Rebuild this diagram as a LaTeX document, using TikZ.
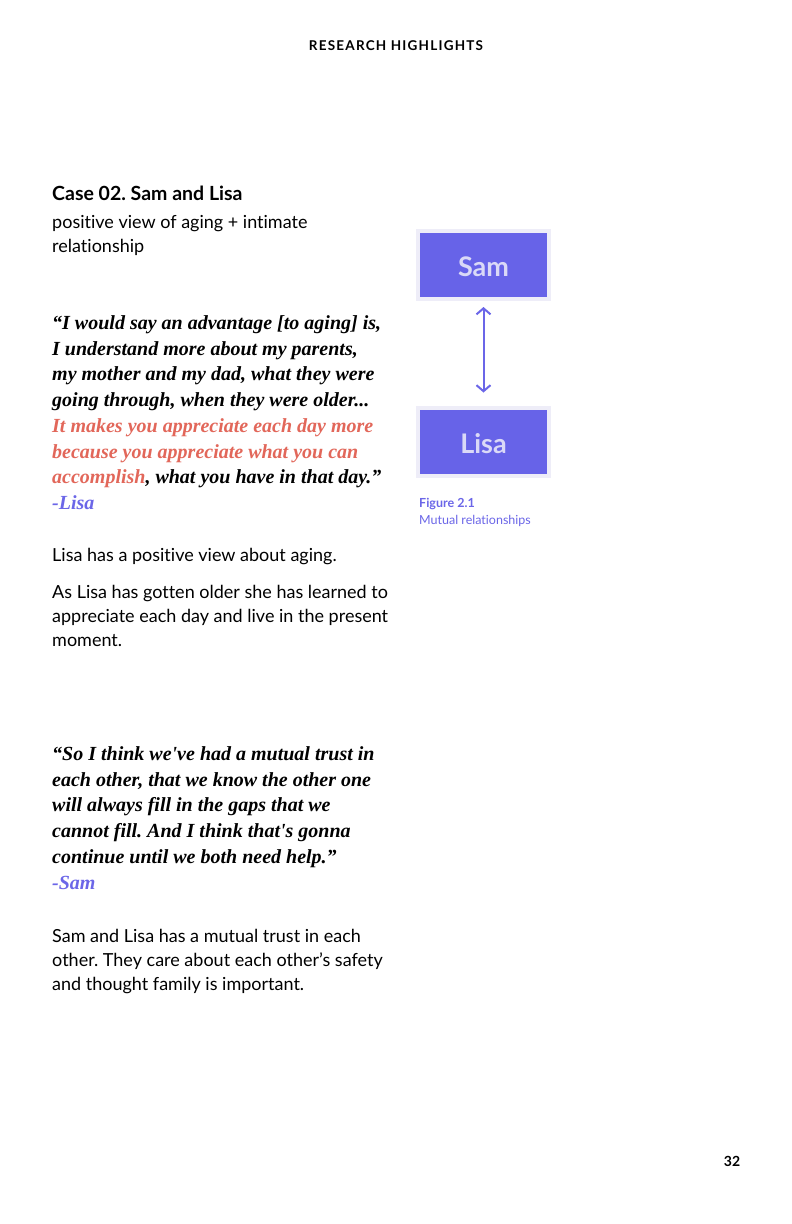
\documentclass[tikz,border=0pt]{standalone}
\usepackage{fontspec}
\setmainfont{Lato}[Ligatures=NoCommon]
\newfontfamily\quotefont{Liberation Serif}
\usetikzlibrary{arrows.meta,positioning}

\definecolor{boxpurple}{HTML}{6763E8}
\definecolor{boxframe}{HTML}{EEEDF8}
\definecolor{boxtext}{HTML}{DAD9F7}
\definecolor{quotered}{HTML}{E2675A}
\definecolor{namepurple}{HTML}{6B66E8}

% multi-line nodes: anchor=base west sits on the last line
\tikzset{
  bodytext/.style={anchor=base west,inner sep=0pt,align=left,
    font=\fontsize{18}{23.8}\selectfont},
  quotetext/.style={anchor=base west,inner sep=0pt,align=left,
    font=\quotefont\bfseries\itshape\fontsize{20}{25.75}\selectfont},
  personbox/.style={draw=boxframe,line width=4pt,fill=boxpurple,
    minimum width=131pt,minimum height=68pt,text=boxtext,
    text height=23pt,text depth=0pt,
    font=\bfseries\fontsize{27}{30}\selectfont},
}

\begin{document}
\frenchspacing
\begin{tikzpicture}[x=1pt,y=-1pt]
	\useasboundingbox (0,0) rectangle (792,1224);
	\fill[white] (0,0) rectangle (792,1224);
	% header and page number
	\node[inner sep=0pt,anchor=base,font=\bfseries\fontsize{13.5}{16}\selectfont\addfontfeatures{LetterSpace=9}] (header) at (396,50) {RESEARCH HIGHLIGHTS};
	\node[inner sep=0pt,anchor=base,font=\bfseries\fontsize{14}{16}\selectfont] (pagenum) at (732,1166) {32};
	% title
	\node[bodytext,font=\bfseries\fontsize{19.5}{22}\selectfont] (title) at (52,200) {Case 02. Sam and Lisa};
	\node[bodytext] (subtitle) at (52,252) {positive view of aging + intimate\\relationship};
	% first quote
	\node[quotetext] (quoteA) at (52,509.5) {“I would say an advantage [to aging] is,\\
		I understand more about my parents,\\
		my mother and my dad, what they were\\
		going through, when they were older...\\
		\textcolor{quotered}{It makes you appreciate each day more}\\
		\textcolor{quotered}{because you appreciate what you can}\\
		\textcolor{quotered}{accomplish}, what you have in that day.”\\
		\textcolor{namepurple}{-Lisa}};
	\node[bodytext] (textA) at (52,561) {Lisa has a positive view about aging.};
	\node[bodytext] (textB) at (52,646) {As Lisa has gotten older she has learned to\\appreciate each day and live in the present\\moment.};
	% second quote
	\node[quotetext] (quoteB) at (52,889) {“So I think we've had a mutual trust in\\
		each other, that we know the other one\\
		will always fill in the gaps that we\\
		cannot fill. And I think that's gonna\\
		continue until we both need help.”\\
		\textcolor{namepurple}{-Sam}};
	\node[bodytext] (textC) at (52,990) {Sam and Lisa has a mutual trust in each\\other. They care about each other’s safety\\and thought family is important.};
	% figure 2.1
	\node[personbox] (sam) at (483.5,265) {Sam};
	\node[personbox] (lisa) at (483.5,441.5) {Lisa};
	\draw[namepurple,line width=2pt,{Straight Barb[length=6pt,width=14pt]}-{Straight Barb[length=6pt,width=14pt]},shorten <=6pt,shorten >=13pt] (sam) -- (lisa);
	\node[inner sep=0pt,anchor=base west,text=namepurple,align=left,font=\fontsize{12.5}{16.5}\selectfont] (caption) at (419,524) {\textbf{Figure 2.1}\\Mutual relationships};
\end{tikzpicture}
\end{document}
